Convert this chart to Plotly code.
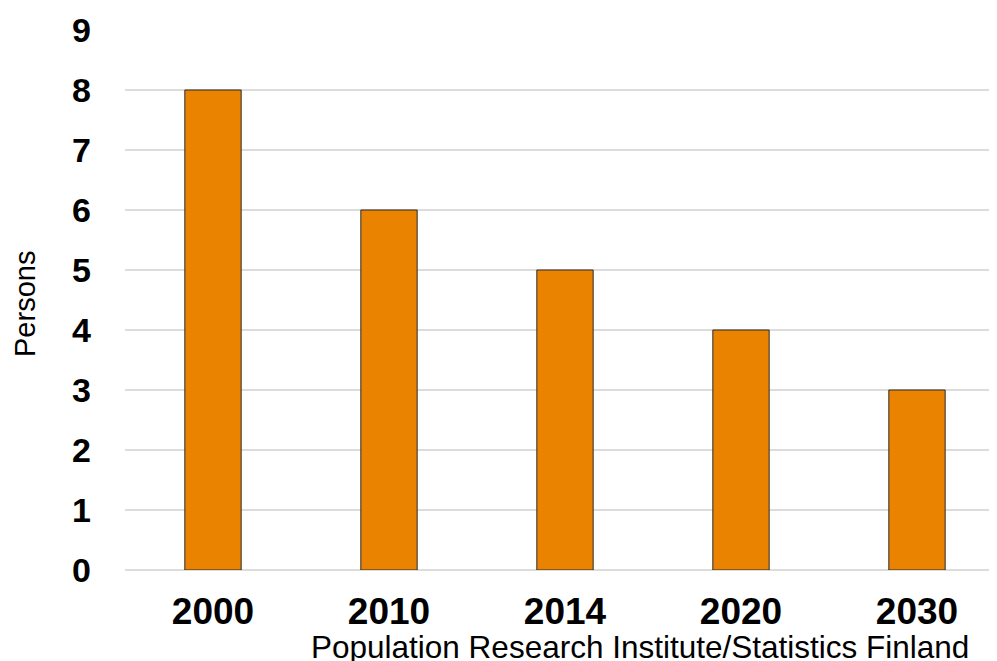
import plotly.graph_objects as go

years = ["2000", "2010", "2014", "2020", "2030"]
persons = [8, 6, 5, 4, 3]
y_ticks = [0, 1, 2, 3, 4, 5, 6, 7, 8, 9]

W, H = 997, 661
OFF = 8  # page body margin
# plot area in page pixels: x 125..1005, y 30..570
L, T = 125 - OFF, 30 - OFF
R = W - (1005 - OFF)
B = H - (570 - OFF)
pw = 880
ph = 540


def px(x):
    return (x - 125) / pw


def py(y):
    return (570 - y) / ph


fig = go.Figure(go.Bar(
    x=list(range(len(years))), y=persons,
    marker=dict(color="#E98300", line=dict(color="#2b2b2b", width=1)),
    width=0.32,
))

fig.update_layout(
    width=W, height=H,
    margin=dict(l=L, r=max(R, 0), t=T, b=B, pad=0),
    plot_bgcolor="white", paper_bgcolor="white",
    showlegend=False,
    font=dict(family="Liberation Sans, Arial, sans-serif", color="black"),
    xaxis=dict(
        range=[-0.5, 4.5],
        tickvals=list(range(len(years))), ticktext=years,
        tickfont=dict(size=37, family="Liberation Sans, Arial, sans-serif", weight="bold"),
        showgrid=False, zeroline=False, showline=False, ticks="",
        ticklabelstandoff=16,
    ),
    yaxis=dict(
        range=[0, 9], tickvals=y_ticks,
        tickfont=dict(size=34, family="Liberation Sans, Arial, sans-serif", weight="bold"),
        showgrid=True, gridcolor="#DCDCDC", gridwidth=1.5,
        zeroline=True, zerolinecolor="#DCDCDC", zerolinewidth=1.5,
        showline=False, ticks="", ticklabelstandoff=33,
    ),
    annotations=[
        dict(text="Population Research Institute/Statistics Finland",
             xref="paper", yref="paper",
             x=px(640), y=py(628),
             xanchor="center", yanchor="top", showarrow=False, borderpad=0,
             font=dict(size=31.5, family="Liberation Sans, Arial, sans-serif", color="black")),
        dict(text="Persons", textangle=-90,
             xref="paper", yref="paper",
             x=px(25), y=py(304),
             xanchor="center", yanchor="middle", showarrow=False, borderpad=0,
             font=dict(size=29, family="Liberation Sans, Arial, sans-serif", color="black")),
    ],
)

fig.write_html("out.html")
